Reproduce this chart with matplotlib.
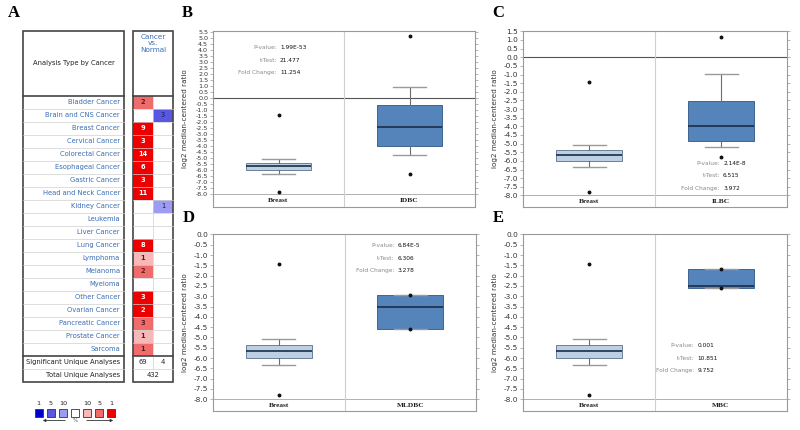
import matplotlib.pyplot as plt
from matplotlib.patches import Rectangle
import numpy as np

plt.rcParams['axes.unicode_minus'] = False
plt.rcParams['font.family'] = 'DejaVu Sans'

# ---- panel A data ----
cancer_types = ['Bladder Cancer', 'Brain and CNS Cancer', 'Breast Cancer', 'Cervical Cancer',
                'Colorectal Cancer', 'Esophageal Cancer', 'Gastric Cancer', 'Head and Neck Cancer',
                'Kidney Cancer', 'Leukemia', 'Liver Cancer', 'Lung Cancer', 'Lymphoma', 'Melanoma',
                'Myeloma', 'Other Cancer', 'Ovarian Cancer', 'Pancreatic Cancer', 'Prostate Cancer',
                'Sarcoma']
up_counts = [2, None, 9, 3, 14, 6, 3, 11, None, None, None, 8, 1, 2, None, 3, 2, 3, 1, 1]
up_rank = [5, None, 1, 1, 1, 1, 1, 1, None, None, None, 1, 10, 5, None, 1, 1, 5, 10, 5]
down_counts = [None, 3, None, None, None, None, None, None, 1, None, None, None, None, None,
               None, None, None, None, None, None]
down_rank = [None, 5, None, None, None, None, None, None, 10, None, None, None, None, None,
             None, None, None, None, None, None]
sig_up, sig_down, total_analyses = 69, 4, 432
legend_levels = [1, 5, 10]

up_colors = {1: '#ee0000', 5: '#f06c6c', 10: '#f8b8b8'}
down_colors = {1: '#0000cc', 5: '#5757e2', 10: '#9c9cf0'}

# ---- box plot data (log2 median-centered ratio) ----
breast = dict(label='Breast', whislo=-6.35, q1=-5.98, med=-5.65, q3=-5.37, whishi=-5.1,
              fliers=[-1.42, -7.8])
idbc = dict(label='IDBC', whislo=-4.77, q1=-4.01, med=-2.40, q3=-0.62, whishi=0.93,
            fliers=[5.1, -6.3])
ilbc = dict(label='ILBC', whislo=-5.18, q1=-4.87, med=-3.97, q3=-2.53, whishi=-0.96,
            fliers=[1.17, -5.77])
mldbc = dict(label='MLDBC', whislo=-4.58, q1=-4.58, med=-3.53, q3=-2.95, whishi=-2.95,
             fliers=[-2.95, -4.58])
mbc = dict(label='MBC', whislo=-2.6, q1=-2.6, med=-2.52, q3=-1.7, whishi=-1.7,
           fliers=[-1.7, -2.6])

stats_B = ['1.99E-53', '21.477', '11.254']
stats_C = ['2.14E-8', '6.515', '3.972']
stats_D = ['6.84E-5', '6.306', '3.278']
stats_E = ['0.001', '10.851', '9.752']
stat_names = ['P-value:', 't-Test:', 'Fold Change:']

W, H = 800, 430
fig = plt.figure(figsize=(8, 4.3), dpi=100)
fig.patch.set_facecolor('white')


def px_axes(l, t, r, b):
    return fig.add_axes([l / W, 1 - b / H, (r - l) / W, (b - t) / H])


# ---------------- panel A ----------------
axA = fig.add_axes([0, 0, 0.25, 1])
axA.set_xlim(0, 200)
axA.set_ylim(430, 0)
axA.axis('off')

x0, x1 = 23, 124          # left box
c0, cm, c1 = 133, 153, 173  # right box columns
top, head_b, rh = 30.7, 95.7, 13
n = len(cancer_types)
body_b = head_b + n * rh
sig_b = body_b + rh
tot_b = sig_b + rh
txt_col = '#3a6db5'

for i, name in enumerate(cancer_types):
    y = head_b + i * rh
    if up_counts[i] is not None:
        axA.add_patch(Rectangle((c0, y), cm - c0, rh, facecolor=up_colors[up_rank[i]], lw=0))
        tc = 'white' if up_rank[i] == 1 else '#5a1a1a'
        axA.text((c0 + cm) / 2, y + rh / 2, str(up_counts[i]), ha='center', va='center',
                 fontsize=4.8, color=tc, fontweight='bold')
    if down_counts[i] is not None:
        axA.add_patch(Rectangle((cm, y), c1 - cm, rh, facecolor=down_colors[down_rank[i]], lw=0))
        axA.text((cm + c1) / 2, y + rh / 2, str(down_counts[i]), ha='center', va='center',
                 fontsize=4.8, color='#1a1a4a')
    axA.text(120, y + rh / 2, name, ha='right', va='center', fontsize=4.9, color=txt_col)
    if i > 0:
        axA.plot([x0, x1], [y, y], color='#d0d0d0', lw=0.5)
        axA.plot([c0, c1], [y, y], color='#d0d0d0', lw=0.5)

axA.plot([cm, cm], [head_b, sig_b], color='#d0d0d0', lw=0.5)
axA.plot([x0, x1], [sig_b, sig_b], color='#d0d0d0', lw=0.5)
axA.plot([c0, c1], [sig_b, sig_b], color='#d0d0d0', lw=0.5)
for xa, xb in [(x0, x1), (c0, c1)]:
    axA.add_patch(Rectangle((xa, top), xb - xa, tot_b - top, facecolor='none',
                            edgecolor='#444444', lw=1.2))
    axA.plot([xa, xb], [head_b, head_b], color='#444444', lw=1.2)
    axA.plot([xa, xb], [body_b, body_b], color='#444444', lw=1.2)

axA.text((x0 + x1) / 2, (top + head_b) / 2, 'Analysis Type by Cancer', ha='center',
         va='center', fontsize=4.9, color='#222222')
axA.text((c0 + c1) / 2, top + 3, 'Cancer\nvs.\nNormal', ha='center', va='top', fontsize=5.2,
         color=txt_col, linespacing=1.1)
axA.text(120, body_b + rh / 2, 'Significant Unique Analyses', ha='right', va='center',
         fontsize=4.9, color='#222222')
axA.text(120, sig_b + rh / 2, 'Total Unique Analyses', ha='right', va='center',
         fontsize=4.9, color='#222222')
axA.text((c0 + cm) / 2, body_b + rh / 2, str(sig_up), ha='center', va='center', fontsize=4.9,
         color='#222222')
axA.text((cm + c1) / 2, body_b + rh / 2, str(sig_down), ha='center', va='center', fontsize=4.9,
         color='#222222')
axA.text((c0 + c1) / 2, sig_b + rh / 2, str(total_analyses), ha='center', va='center',
         fontsize=4.9, color='#222222')

# legend
sq = 8
leg_cols = [down_colors[l] for l in legend_levels] + ['white'] + \
           [up_colors[l] for l in legend_levels[::-1]]
leg_labels = [str(l) for l in legend_levels] + [''] + [str(l) for l in legend_levels[::-1]]
for k, (col, lab) in enumerate(zip(leg_cols, leg_labels)):
    cx = 38.7 + k * 12.1
    axA.add_patch(Rectangle((cx - sq / 2, 412.7 - sq / 2), sq, sq, facecolor=col,
                            edgecolor='#333333', lw=0.6))
    axA.text(cx, 403.3, lab, ha='center', va='center', fontsize=4.6, color='#222222')
axA.annotate('', xy=(40, 420.5), xytext=(68, 420.5),
             arrowprops=dict(arrowstyle='-|>', color='#333333', lw=0.6, mutation_scale=4))
axA.annotate('', xy=(116, 420.5), xytext=(84, 420.5),
             arrowprops=dict(arrowstyle='-|>', color='#333333', lw=0.6, mutation_scale=4))
axA.text(75.5, 420.5, '%', ha='center', va='center', fontsize=4, color='#555555')


# ---------------- box plot panels ----------------
def box_panel(rect, tumor, ylim, ytop, stats, stat_pos, tick_fs):
    ax = px_axes(*rect)
    art = ax.bxp([breast, tumor], positions=[0, 1], widths=0.5, patch_artist=True,
                 showfliers=True,
                 flierprops=dict(marker='o', markerfacecolor='#111111', markeredgecolor='#111111',
                                 markersize=1.8, linestyle='none'),
                 whiskerprops=dict(color='#6d6d6d', lw=0.8),
                 capprops=dict(color='#9a9a9a', lw=1.0),
                 medianprops=dict(color='#1b2d48', lw=1.2))
    art['boxes'][0].set(facecolor='#bccfe4', edgecolor='#6b7f98', lw=0.7)
    art['boxes'][1].set(facecolor='#5584ba', edgecolor='#3e6592', lw=0.7)
    ax.set_xlim(-0.5, 1.5)
    ax.set_ylim(*ylim)
    ax.axhline(-8.0, color='#b0b0b0', lw=0.7, zorder=0)
    if ytop > 0:
        ax.axhline(0.0, color='#555555', lw=0.8, zorder=0)
    ax.axvline(0.5, color='#cfcfcf', lw=0.8, zorder=0)
    ticks = np.arange(-8.0, ytop + 0.01, 0.5)
    ax.set_yticks(ticks)
    ax.set_yticklabels(['%.1f' % t for t in ticks])
    ax.set_xticks([])
    ax.tick_params(axis='y', labelsize=tick_fs, length=2, width=0.5, color='#999999',
                   labelcolor='#333333', right=True, pad=1.5)
    for s in ax.spines.values():
        s.set_color('#999999')
        s.set_linewidth(0.8)
    ax.set_ylabel('log2 median-centered ratio', fontsize=5.2, color='#333333')
    ax.yaxis.set_label_coords(-0.095, 0.5)
    ylab = (-8.0 + ylim[0]) / 2
    for xp, d in zip([0, 1], [breast, tumor]):
        ax.text(xp, ylab, d['label'], ha='center', va='center', fontsize=5.3,
                fontfamily='Liberation Serif', fontweight='bold', color='#222222')
    sx, sy = stat_pos
    for j, (nm, val) in enumerate(zip(stat_names, stats)):
        ax.text(sx, sy - j * 0.071, nm, transform=ax.transAxes, ha='right', va='center',
                fontsize=4.2, color='#8a8a8a')
        ax.text(sx + 0.012, sy - j * 0.071, val, transform=ax.transAxes, ha='left',
                va='center', fontsize=4.2, color='#111111')
    return ax


box_panel((213, 31, 475, 207), idbc, (-9.05, 5.55), 5.5, stats_B, (0.244, 0.905), 4.6)
box_panel((523, 31, 787, 207), ilbc, (-8.67, 1.52), 1.5, stats_C, (0.746, 0.248), 5.3)
box_panel((213, 234, 476, 411), mldbc, (-8.57, 0.02), 0.0, stats_D, (0.691, 0.934), 5.3)
box_panel((523, 234, 787, 411), mbc, (-8.57, 0.02), 0.0, stats_E, (0.650, 0.369), 5.3)

for lab, x, y in [('A', 14, 13), ('B', 187, 13), ('C', 498, 13), ('D', 189, 218), ('E', 498, 218)]:
    fig.text(x / W, 1 - y / H, lab, ha='center', va='center', fontsize=12,
             fontfamily='Liberation Serif', fontweight='bold')

fig.savefig('out.png', dpi=100)
